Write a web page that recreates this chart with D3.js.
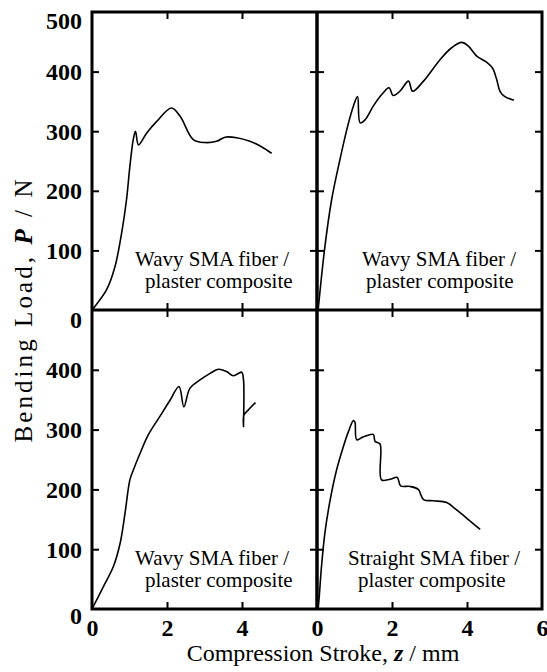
<!DOCTYPE html>
<html>
<head>
<meta charset="utf-8">
<script src="https://cdn.jsdelivr.net/npm/d3@7"></script>
<style>
  html, body { margin: 0; padding: 0; background: #fff; }
  svg { display: block; }
  text { font-family: "Liberation Serif", "Times New Roman", serif; fill: #000; }
</style>
</head>
<body>
<svg id="chart" width="547" height="672"></svg>
<script>
// ---- data (compression stroke z in mm, bending load P in N) ----
const zTopLeft = [0.00, 0.04, 0.39, 0.61, 0.79, 0.92, 1.01, 1.10, 1.16, 1.24, 1.46, 1.72, 2.12, 2.35, 2.70, 3.01, 3.32, 3.55, 3.86, 4.21, 4.52, 4.79];
const pTopLeft = [0, 3, 34, 72, 129, 185, 241, 286, 300, 277, 297, 316, 339, 325, 286, 281, 283, 290, 289, 283, 274, 263];

const zTopRight = [0.03, 0.21, 0.39, 0.61, 0.84, 0.97, 1.08, 1.15, 1.28, 1.50, 1.72, 1.92, 2.03, 2.21, 2.44, 2.55, 2.84, 3.28, 3.59, 3.86, 4.03, 4.26, 4.52, 4.68, 4.79, 4.88, 5.01, 5.25];
const pTopRight = [0, 106, 185, 252, 314, 342, 358, 314, 319, 342, 361, 373, 360, 367, 384, 367, 384, 420, 440, 449, 443, 426, 416, 406, 387, 367, 358, 352];

const zBottomLeft = [0.00, 0.30, 0.57, 0.75, 0.88, 1.01, 1.10, 1.28, 1.50, 1.81, 2.08, 2.32, 2.45, 2.61, 2.88, 3.15, 3.37, 3.59, 3.77, 3.99, 4.04, 4.04, 4.05, 4.17, 4.36];
const pBottomLeft = [0, 37, 71, 110, 160, 216, 232, 260, 291, 322, 349, 372, 338, 369, 383, 394, 401, 397, 390, 396, 383, 305, 324, 333, 345];

const zBottomRight = [0.03, 0.06, 0.12, 0.21, 0.35, 0.52, 0.70, 0.84, 0.97, 1.01, 1.06, 1.24, 1.50, 1.55, 1.68, 1.72, 1.95, 2.14, 2.23, 2.48, 2.70, 2.84, 3.10, 3.46, 3.68, 3.95, 4.35];
const pBottomRight = [0, 21, 71, 127, 182, 232, 271, 297, 315, 313, 283, 288, 292, 280, 276, 216, 217, 220, 206, 205, 200, 183, 181, 178, 168, 154, 133];

const yTicksTop = [0, 100, 200, 300, 400, 500];
const yTicksBottom = [0, 100, 200, 300, 400];
const yInnerTicks = [100, 200, 300, 400];
const xTicksLeft = [0, 2, 4];
const xTicksRight = [0, 2, 4, 6];
const xInnerTicks = [2, 4];

const labelTopLeft = ["Wavy SMA fiber /", "plaster composite"];
const labelTopRight = ["Wavy SMA fiber /", "plaster composite"];
const labelBottomLeft = ["Wavy SMA fiber /", "plaster composite"];
const labelBottomRight = ["Straight SMA fiber /", "plaster composite"];

// ---- layout ----
const L = 92, M = 317, R = 542;
const T = 12, H = 310, B = 609;

const svg = d3.select("#chart");

const xLeft = d3.scaleLinear().domain([0, 6]).range([L, M]);
const xRight = d3.scaleLinear().domain([0, 6]).range([M, R]);
const yTop = d3.scaleLinear().domain([0, 500]).range([H, T]);
const yBottom = d3.scaleLinear().domain([0, 500]).range([B, H]);

const panels = [
  { x: xLeft, y: yTop, z: zTopLeft, p: pTopLeft, label: labelTopLeft, lx: [135, 145] },
  { x: xRight, y: yTop, z: zTopRight, p: pTopRight, label: labelTopRight, lx: [362, 366] },
  { x: xLeft, y: yBottom, z: zBottomLeft, p: pBottomLeft, label: labelBottomLeft, lx: [135, 145] },
  { x: xRight, y: yBottom, z: zBottomRight, p: pBottomRight, label: labelBottomRight, lx: [348, 358] }
];

const TICK = 7;
const intFmt = d3.format("d");

panels.forEach(pn => {
  const [x0, x1] = pn.x.range();
  const [y0, y1] = pn.y.range(); // y0 bottom, y1 top
  const g = svg.append("g");

  // inward ticks on all four sides
  const axes = [
    { ax: d3.axisBottom(pn.x).tickValues(xInnerTicks), tr: `translate(0,${y0})` },
    { ax: d3.axisTop(pn.x).tickValues(xInnerTicks), tr: `translate(0,${y1})` },
    { ax: d3.axisLeft(pn.y).tickValues(yInnerTicks), tr: `translate(${x0},0)` },
    { ax: d3.axisRight(pn.y).tickValues(yInnerTicks), tr: `translate(${x1},0)` }
  ];
  axes.forEach(a => {
    const ag = g.append("g").attr("transform", a.tr)
      .call(a.ax.tickSize(-TICK).tickFormat(""));
    ag.select(".domain").remove();
    ag.selectAll(".tick line").attr("stroke", "#000").attr("stroke-width", 2);
  });

  // curve
  const pts = pn.z.map((z, i) => [z, pn.p[i]]);
  g.append("path")
    .datum(pts)
    .attr("fill", "none")
    .attr("stroke", "#000")
    .attr("stroke-width", 1.6)
    .attr("stroke-linejoin", "round")
    .attr("d", d3.line().x(d => pn.x(d[0])).y(d => pn.y(d[1])).curve(d3.curveCatmullRom.alpha(0.5)));

  // annotation
  const base = pn.y(0);
  g.append("text").attr("x", pn.lx[0]).attr("y", base - 44).attr("font-size", 21).text(pn.label[0]);
  g.append("text").attr("x", pn.lx[1]).attr("y", base - 22).attr("font-size", 21).text(pn.label[1]);
});

// frame
const frame = svg.append("g").attr("stroke", "#000").attr("fill", "none");
frame.append("rect").attr("x", L).attr("y", T).attr("width", R - L).attr("height", B - T).attr("stroke-width", 3);
frame.append("line").attr("x1", M).attr("x2", M).attr("y1", T).attr("y2", B).attr("stroke-width", 3.5);
frame.append("line").attr("x1", L).attr("x2", R).attr("y1", H).attr("y2", H).attr("stroke-width", 3);

// y tick labels
function yLabels(scale, vals, shifts) {
  const ag = svg.append("g").attr("transform", `translate(${L},0)`)
    .call(d3.axisLeft(scale).tickValues(vals).tickFormat(intFmt).tickSize(0).tickPadding(10));
  ag.select(".domain").remove();
  ag.selectAll(".tick text")
    .attr("font-size", 24).attr("font-weight", "bold")
    .attr("font-family", '"Liberation Serif", "Times New Roman", serif')
    .attr("fill", "#000")
    .attr("dy", d => (shifts[d] || 0) + 8 + "px");
}
yLabels(yTop, yTicksTop, { 0: 9, 500: 8 });
yLabels(yBottom, yTicksBottom, { 0: 6 });

// x tick labels
function xLabels(scale, vals) {
  const ag = svg.append("g").attr("transform", `translate(0,${B})`)
    .call(d3.axisBottom(scale).tickValues(vals).tickFormat(intFmt).tickSize(0).tickPadding(10));
  ag.select(".domain").remove();
  ag.selectAll(".tick text")
    .attr("font-size", 24).attr("font-weight", "bold")
    .attr("font-family", '"Liberation Serif", "Times New Roman", serif')
    .attr("fill", "#000");
}
xLabels(xLeft, xTicksLeft);
xLabels(xRight, xTicksRight);

// axis titles
const xt = svg.append("text").attr("x", 323).attr("y", 661).attr("text-anchor", "middle").attr("font-size", 24);
xt.append("tspan").text("Compression Stroke, ");
xt.append("tspan").attr("font-style", "italic").attr("font-weight", "bold").text("z");
xt.append("tspan").text(" / mm");

const yt = svg.append("text")
  .attr("transform", "translate(32,311) rotate(-90)")
  .attr("text-anchor", "middle").attr("font-size", 25)
  .attr("textLength", 263).attr("lengthAdjust", "spacing");
yt.append("tspan").text("Bending Load, ");
yt.append("tspan").attr("font-style", "italic").attr("font-weight", "bold").text("P");
yt.append("tspan").text(" / N");
</script>
</body>
</html>
